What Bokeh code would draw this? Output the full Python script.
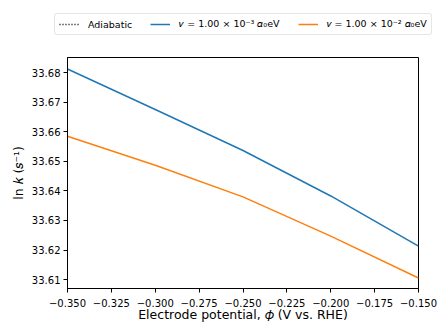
from bokeh.plotting import figure
from bokeh.layouts import column
from bokeh.models import Legend, LegendItem, FixedTicker, CustomJSTickFormatter, Range1d
from bokeh.embed import file_html
from bokeh.resources import INLINE

phi = [-0.35, -0.30, -0.25, -0.20, -0.15]
lnk_v1e3 = [33.6813, 33.6676, 33.6537, 33.6383, 33.6213]
lnk_v1e2 = [33.6585, 33.6487, 33.6380, 33.6247, 33.6105]
adiabatic_phi = []
adiabatic_lnk = []

x_ticks = [-0.35, -0.325, -0.30, -0.275, -0.25, -0.225, -0.20, -0.175, -0.15]
y_ticks = [33.61, 33.62, 33.63, 33.64, 33.65, 33.66, 33.67, 33.68]

labels = ["Adiabatic",
          "\U0001D463 = 1.00 \u00D7 10\u207B\u00B3 \U0001D6FC\u2080eV",
          "\U0001D463 = 1.00 \u00D7 10\u207B\u00B2 \U0001D6FC\u2080eV"]
colors = ["black", "#1f77b4", "#ff7f0e"]
dashes = ["1 2", "solid", "solid"]

FONT = "DejaVu Sans"

# ---- main plot ----
p = figure(width=448, height=296, output_backend="svg", toolbar_location=None,
           x_range=Range1d(-0.35, -0.15), y_range=Range1d(33.60696, 33.6852))
p.min_border_left = 67
p.min_border_right = 30
p.min_border_top = 17
p.min_border_bottom = 48
p.frame_align = False

p.outline_line_color = "black"
p.outline_line_width = 1
p.outline_line_alpha = 1
p.xgrid.visible = False
p.ygrid.visible = False
p.background_fill_color = "white"
p.border_fill_color = "white"

fmt_x = CustomJSTickFormatter(code="return (tick < -1e-9 ? '\\u2212' : '') + Math.abs(tick).toFixed(3);")
fmt_y = CustomJSTickFormatter(code="return tick.toFixed(2);")

for ax, ticks, fmt in ((p.xaxis[0], x_ticks, fmt_x), (p.yaxis[0], y_ticks, fmt_y)):
    ax.ticker = FixedTicker(ticks=ticks)
    ax.formatter = fmt
    ax.minor_tick_line_color = None
    ax.major_tick_in = 0
    ax.major_tick_out = 4
    ax.major_tick_line_color = "black"
    ax.axis_line_color = "black"
    ax.major_label_text_font = FONT
    ax.major_label_text_font_size = "10px"
    ax.major_label_text_color = "black"
    ax.axis_label_text_font = FONT
    ax.axis_label_text_font_size = "12.5px"
    ax.axis_label_text_font_style = "normal"
    ax.axis_label_text_color = "black"

p.xaxis.major_label_standoff = 6
p.yaxis.major_label_standoff = 3
p.xaxis.axis_label = "Electrode potential, \U0001D719 (V vs. RHE)"
p.yaxis.axis_label = "ln \U0001D458 (\U0001D460\u207B\u00B9)"
p.xaxis.axis_label_standoff = -3
p.yaxis.axis_label_standoff = 3

p.line(adiabatic_phi, adiabatic_lnk, line_color=colors[0], line_dash=dashes[0], line_width=1.5)
p.line(phi, lnk_v1e3, line_color=colors[1], line_width=1.5)
p.line(phi, lnk_v1e2, line_color=colors[2], line_width=1.5)

# ---- legend strip above the plot ----
lg = figure(width=448, height=40, output_backend="svg", toolbar_location=None,
            x_range=Range1d(0, 1), y_range=Range1d(0, 1),
            x_axis_location=None, y_axis_location=None, min_border=0)
lg.frame_align = False
lg.outline_line_color = None
lg.xgrid.visible = False
lg.ygrid.visible = False
lg.background_fill_color = "white"
lg.border_fill_color = "white"

# legend-only renderers (their data lie outside this strip's ranges, so only the keys show)
key_r = [lg.line(phi, lnk_v1e3, line_color=c, line_dash=d, line_width=1.5)
         for c, d in zip(colors, dashes)]

legend = Legend(items=[LegendItem(label=l, renderers=[r]) for l, r in zip(labels, key_r)],
                orientation="horizontal", location=(54, 5))
legend.label_text_font = FONT
legend.label_text_font_size = "9.5px"
legend.label_text_color = "black"
legend.glyph_width = 20
legend.glyph_height = 12
legend.spacing = 18
legend.padding = 4
legend.margin = 0
legend.label_standoff = 9
legend.border_line_color = "#cccccc"
legend.border_line_width = 1
legend.border_radius = 3
legend.background_fill_alpha = 0.8
lg.add_layout(legend, "center")

layout = column(lg, p, spacing=0)
open("out.html", "w").write(file_html(layout, INLINE))
